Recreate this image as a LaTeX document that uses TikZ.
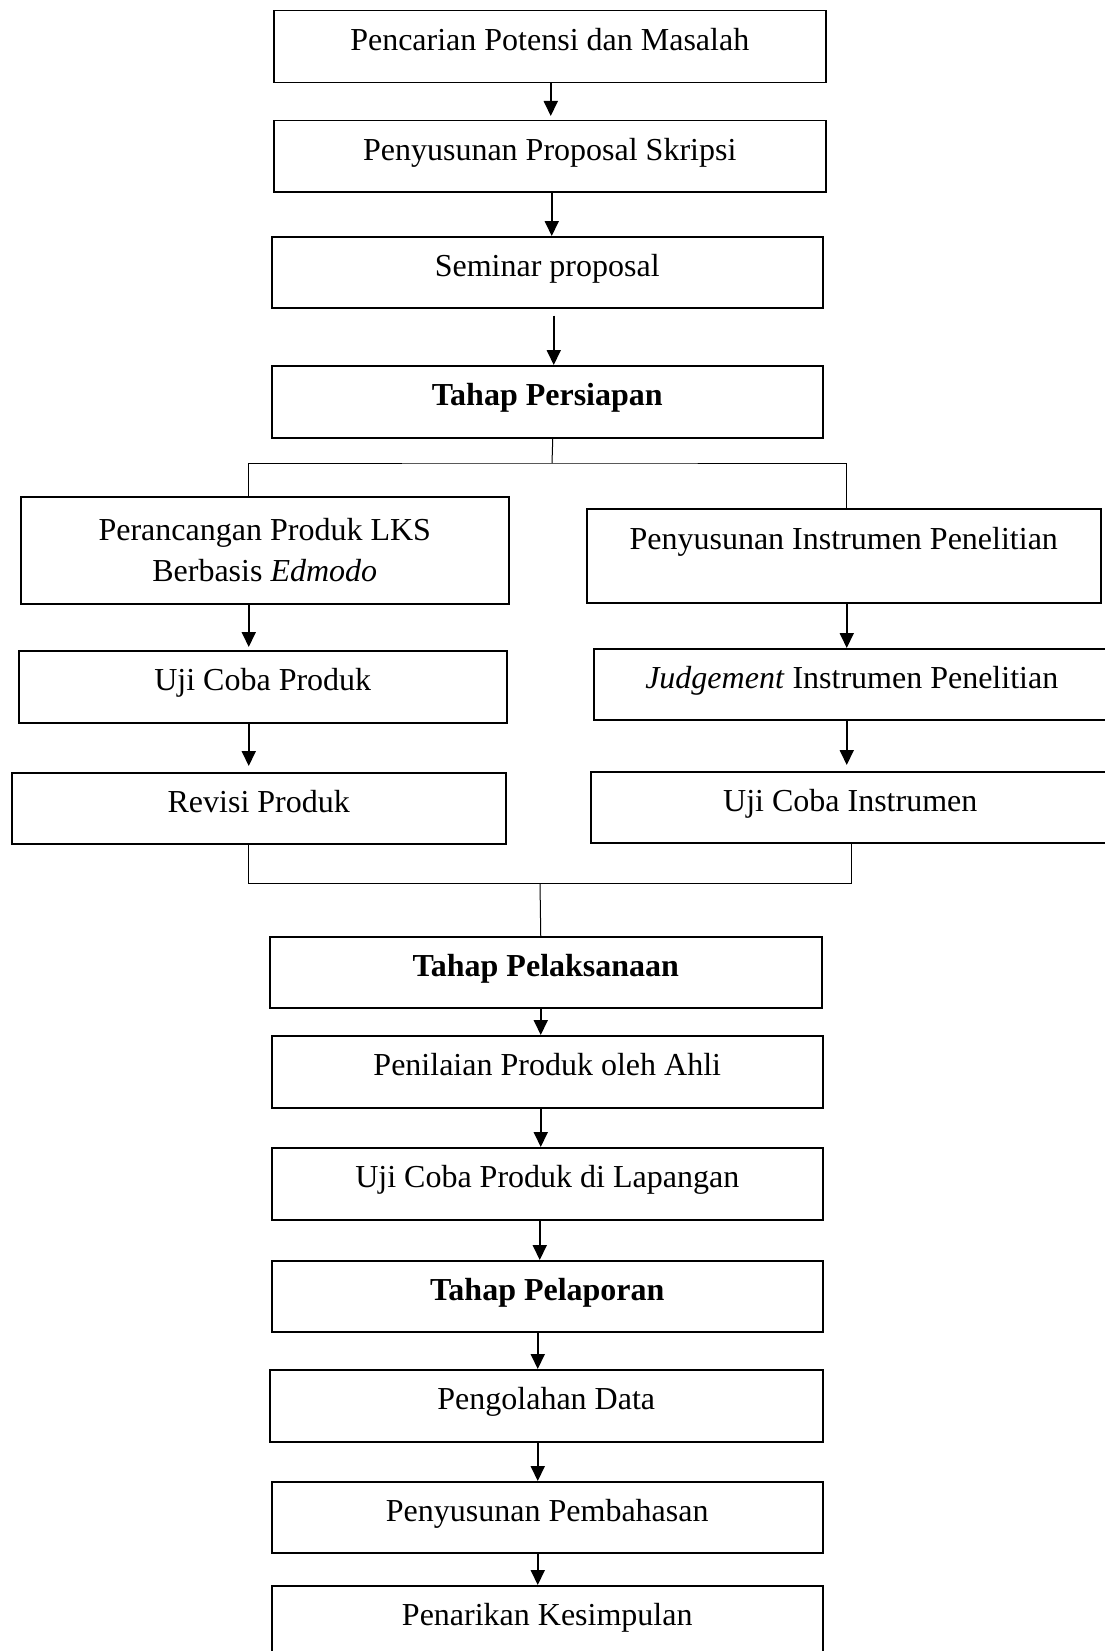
\documentclass[tikz,border=0pt]{standalone}
\usepackage{fontspec}
\setmainfont{Liberation Serif}
\usetikzlibrary{arrows.meta}

\tikzset{
  box/.style={draw, line width=1.5pt, anchor=north west, inner sep=0pt,
    font=\fontsize{32}{41}\selectfont, text height=22pt, text depth=14pt},
  twoline/.style={box, text height=, text depth=, align=center},
  arr/.style={line width=1.8pt, -{Triangle[length=15pt,width=14pt]}},
  branch/.style={line width=1pt}
}

\begin{document}
\begin{tikzpicture}[x=1pt,y=-1pt]
\useasboundingbox (0,0) rectangle (1105,1651);

\node[box, minimum width=552pt, minimum height=72pt] (potensi) at (273,10) {Pencarian Potensi dan Masalah};
\node[box, minimum width=552pt, minimum height=71pt] (proposal) at (273,120) {Penyusunan Proposal Skripsi};
\node[box, minimum width=551pt, minimum height=71pt] (seminar) at (271,236) {Seminar proposal};
\node[box, minimum width=551pt, minimum height=72pt] (persiapan) at (271,365) {\textbf{Tahap Persiapan}};

\node[twoline, minimum width=488pt, minimum height=107pt] (rancang) at (20,496) {Perancangan Produk LKS\\Berbasis \textit{Edmodo}};
\node[box, minimum width=488pt, minimum height=72pt] (ujiproduk) at (18,650) {Uji Coba Produk};
\node[box, minimum width=494pt, minimum height=71pt] (revisi) at (11,772) {Revisi Produk};

\node[box, minimum width=514pt, minimum height=94pt, text depth=34pt] (susun) at (586,508) {Penyusunan Instrumen Penelitian};
\node[box, minimum width=516pt, minimum height=71pt] (judgement) at (593,648) {\textit{Judgement} Instrumen Penelitian};
\node[box, minimum width=519pt, minimum height=71pt] (ujiinstrumen) at (590,771) {Uji Coba Instrumen};

\node[box, minimum width=552pt, minimum height=71pt] (pelaksanaan) at (269,936) {\textbf{Tahap Pelaksanaan}};
\node[box, minimum width=551pt, minimum height=72pt] (penilaian) at (271,1035) {Penilaian Produk oleh Ahli};
\node[box, minimum width=551pt, minimum height=72pt] (lapangan) at (271,1147) {Uji Coba Produk di Lapangan};
\node[box, minimum width=551pt, minimum height=71pt] (pelaporan) at (271,1260) {\textbf{Tahap Pelaporan}};
\node[box, minimum width=553pt, minimum height=72pt] (olahdata) at (269,1369) {Pengolahan Data};
\node[box, minimum width=551pt, minimum height=71pt] (pembahasan) at (271,1481) {Penyusunan Pembahasan};
\node[box, minimum width=551pt, minimum height=72pt] (kesimpulan) at (271,1585) {Penarikan Kesimpulan};

\draw[arr] ([xshift=1pt]potensi.south) -- ([xshift=1pt,yshift=4pt]proposal.north);
\draw[arr] ([xshift=2pt]proposal.south) -- ([xshift=4.5pt]seminar.north);
\draw[arr] ([xshift=6.5pt,yshift=-7pt]seminar.south) -- ([xshift=6.5pt]persiapan.north);

% cabang ke dua jalur
\coordinate (pisah) at (552,463);
\draw[branch] ([xshift=5.5pt]persiapan.south) -- (pisah);
\draw[branch] ([xshift=-16pt]rancang.north) |- (pisah) -| ([xshift=3pt]susun.north);

\draw[arr] ([xshift=-16pt]rancang.south) -- ([xshift=-14pt,yshift=3pt]ujiproduk.north);
\draw[arr] ([xshift=-14pt]ujiproduk.south) -- ([xshift=-10pt,yshift=6pt]revisi.north);
\draw[arr] ([xshift=3pt]susun.south) -- ([xshift=-5pt]judgement.north);
\draw[arr] ([xshift=-5pt]judgement.south) -- ([xshift=-3.5pt,yshift=6pt]ujiinstrumen.north);

% gabung lagi
\coordinate (gabung) at (540,883);
\draw[branch] ([xshift=-10pt]revisi.south) |- (gabung) -| ([xshift=1.5pt]ujiinstrumen.south);
\draw[branch] (gabung) -- ([xshift=-5pt]pelaksanaan.north);

\draw[arr] ([xshift=-5pt]pelaksanaan.south) -- ([xshift=-6.5pt]penilaian.north);
\draw[arr] ([xshift=-6.5pt]penilaian.south) -- ([xshift=-6.5pt]lapangan.north);
\draw[arr] ([xshift=-7.5pt]lapangan.south) -- ([xshift=-7.5pt]pelaporan.north);
\draw[arr] ([xshift=-9.5pt]pelaporan.south) -- ([xshift=-8.5pt]olahdata.north);
\draw[arr] ([xshift=-8.5pt]olahdata.south) -- ([xshift=-9.5pt]pembahasan.north);
\draw[arr] ([xshift=-9.5pt]pembahasan.south) -- ([xshift=-9.5pt]kesimpulan.north);
\end{tikzpicture}
\end{document}
